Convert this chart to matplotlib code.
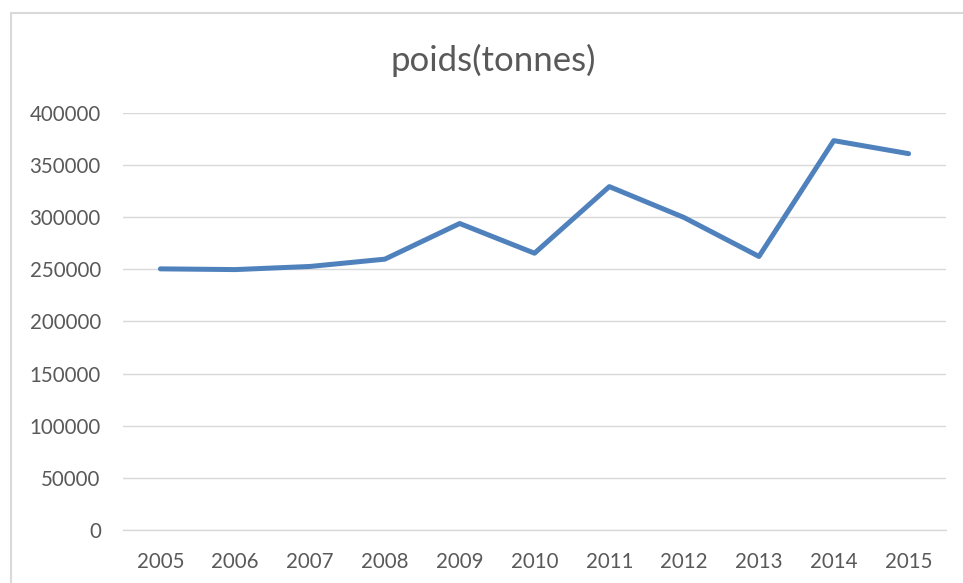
import matplotlib.pyplot as plt
from matplotlib.patches import Rectangle

years = ['2005', '2006', '2007', '2008', '2009', '2010',
         '2011', '2012', '2013', '2014', '2015']
poids = [250500, 249800, 252800, 259800, 294000, 265500,
         329400, 299700, 262400, 373500, 361000]
yticks = [0, 50000, 100000, 150000, 200000, 250000, 300000, 350000, 400000]

plt.rcParams['font.family'] = ['Lato', 'DejaVu Sans']

fig = plt.figure(figsize=(9.63, 5.83), dpi=100)
ax = fig.add_axes([123 / 963, 1 - 530 / 583, (946 - 123) / 963, (530 - 113) / 583])

# chart border (light gray frame)
fig.patches.append(Rectangle((11 / 963, -0.1), 1.2, 1.1 - 13 / 583,
                             transform=fig.transFigure, fill=False,
                             edgecolor='#d9d9d9', linewidth=1.5))

x = list(range(len(years)))
ax.plot(x, poids, color='#4f81bd', linewidth=3.6,
        solid_capstyle='round', solid_joinstyle='round', zorder=3)

ax.set_xlim(-0.5, len(years) - 0.5)
ax.set_ylim(0, 400000)
ax.set_xticks(x)
ax.set_xticklabels(years)
ax.set_yticks(yticks)
ax.set_yticklabels([str(v) for v in yticks])

ax.grid(axis='y', color='#d9d9d9', linewidth=1)
for s in ['top', 'right', 'left']:
    ax.spines[s].set_visible(False)
ax.spines['bottom'].set_color('#d9d9d9')
ax.spines['bottom'].set_linewidth(1)
ax.tick_params(axis='both', length=0, labelsize=14.8, colors='#595959')
ax.tick_params(axis='y', pad=16)
ax.tick_params(axis='x', pad=16)

fig.text(493 / 963, 1 - 60 / 583, 'poids(tonnes)', ha='center', va='center',
         fontsize=25, color='#595959')

fig.savefig('out.png', dpi=100)
